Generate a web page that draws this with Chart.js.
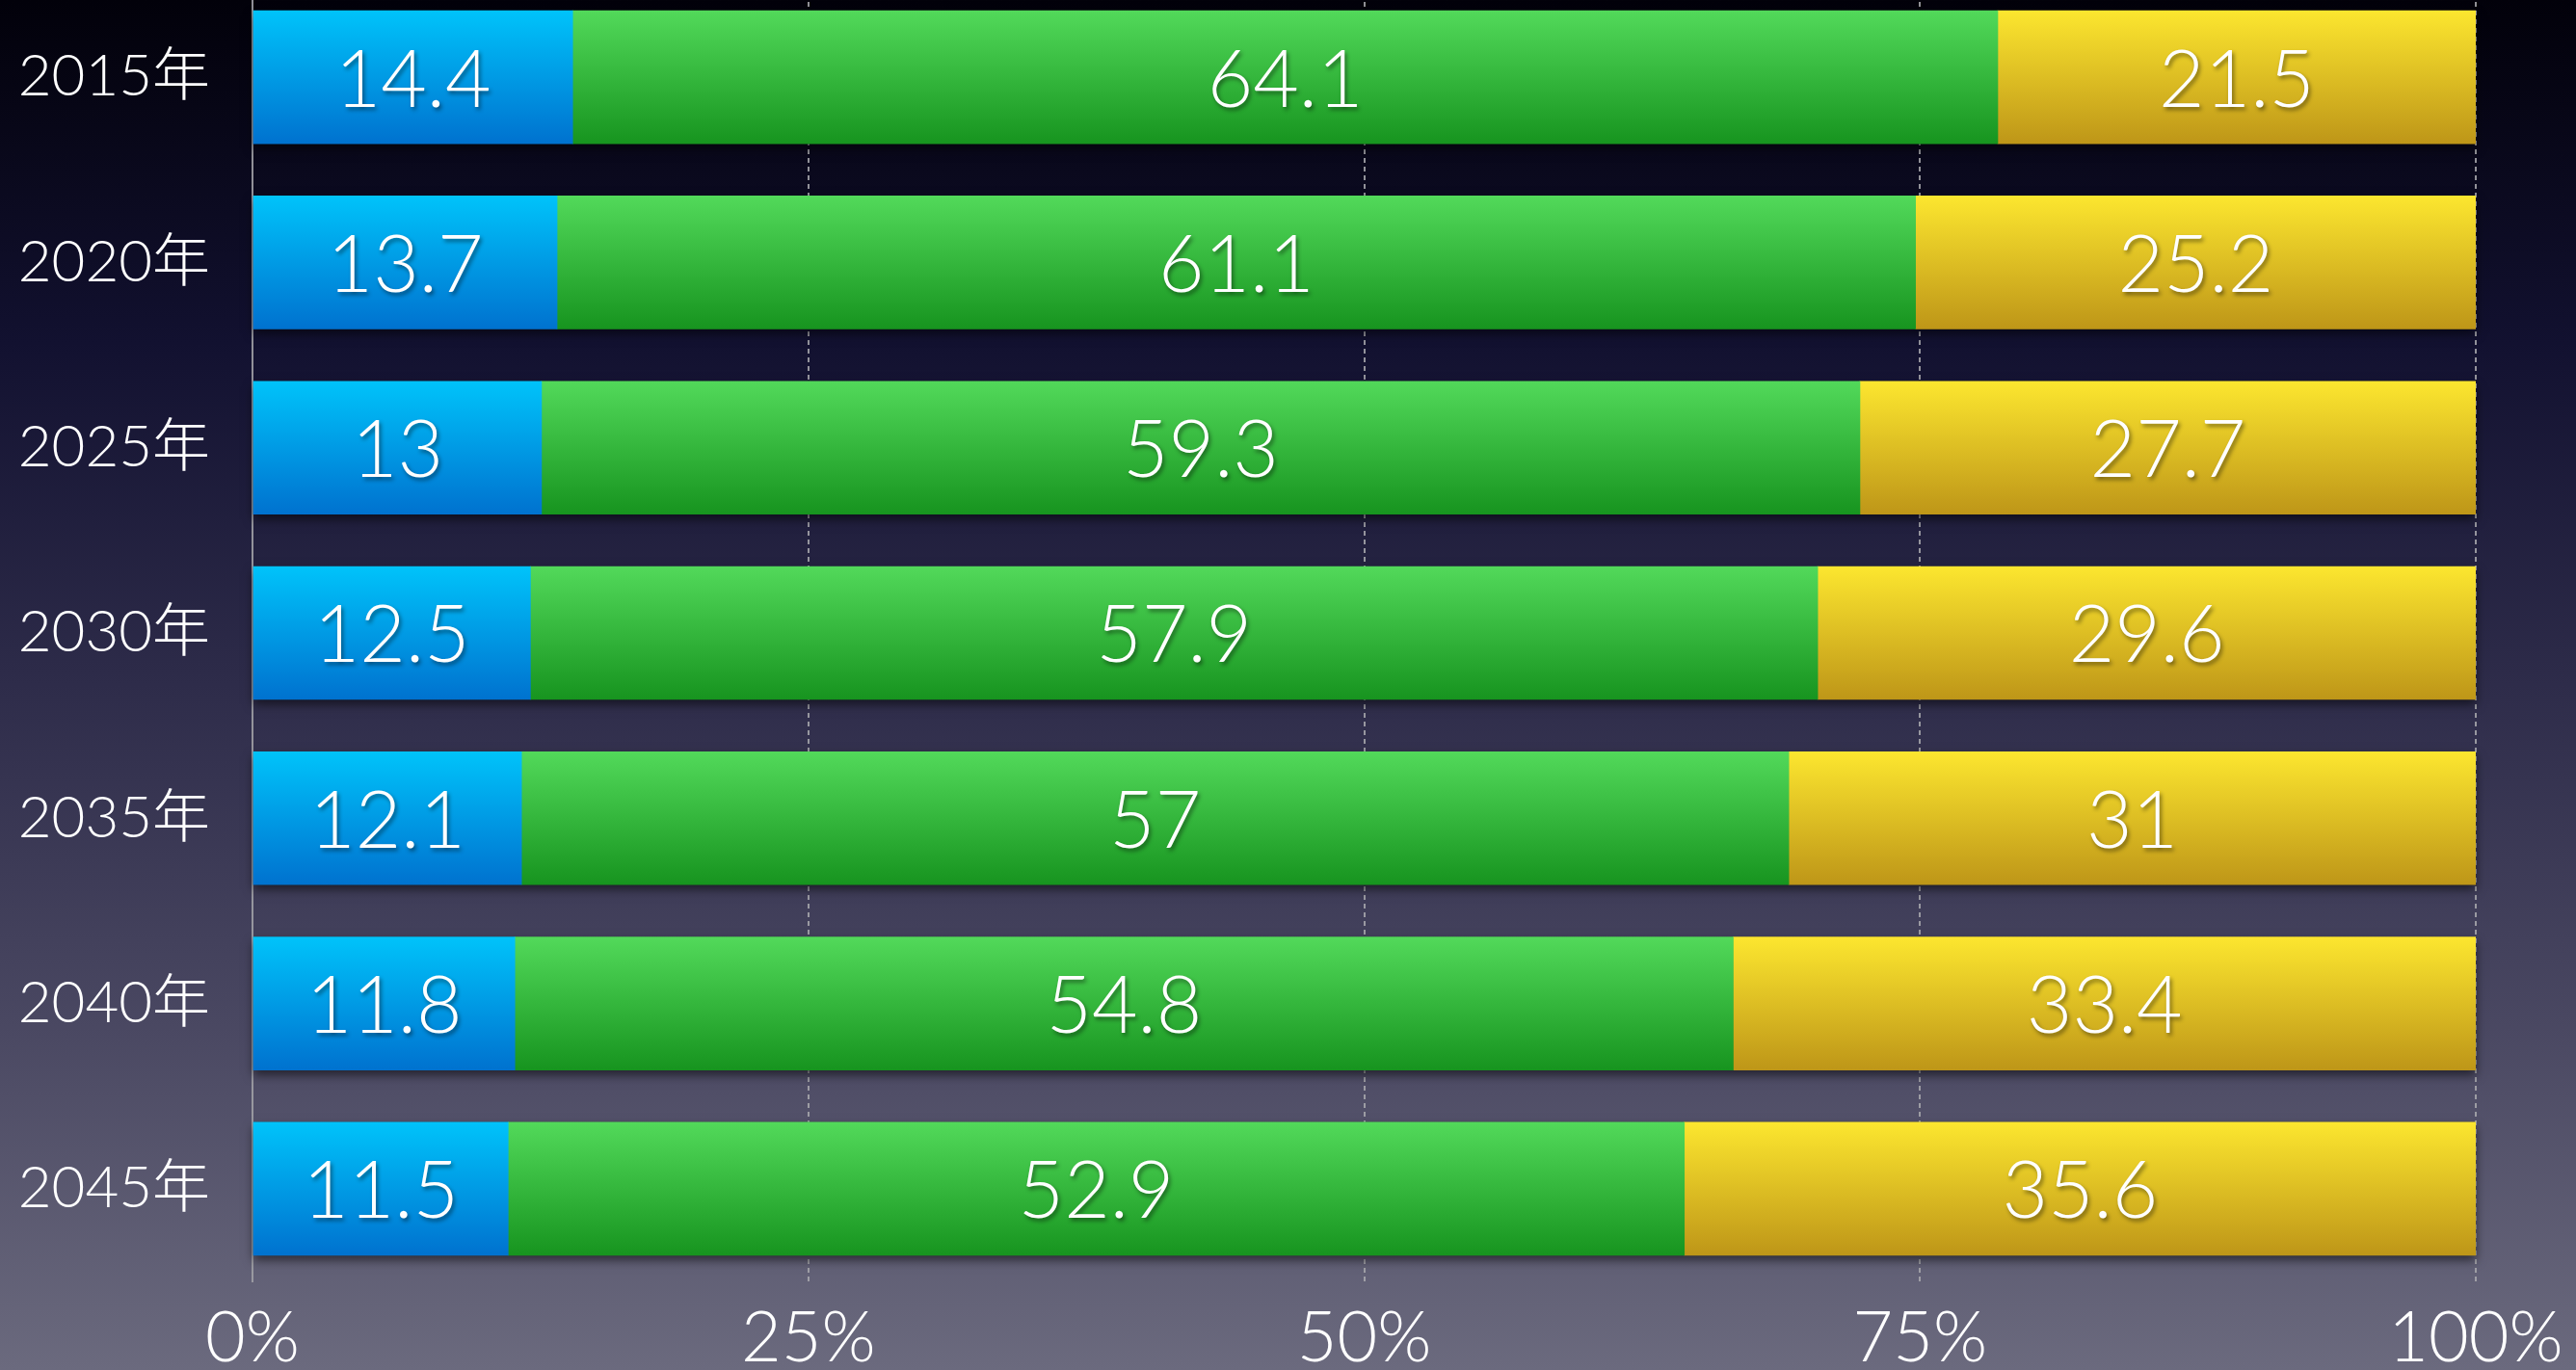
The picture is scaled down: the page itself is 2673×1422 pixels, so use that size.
<!DOCTYPE html>
<html>
<head>
<meta charset="utf-8">
<script src="https://cdn.jsdelivr.net/npm/chart.js@4.4.1/dist/chart.umd.min.js"></script>
<style>
  html, body { margin: 0; padding: 0; width: 2673px; height: 1422px; overflow: hidden; }
  body { background: linear-gradient(to bottom, #02010a 0%, #121130 25%, #2e2c4a 50%, #4a4862 75%, #6b6a7e 100%); position: relative; }
  #wrap { position: absolute; left: 0; top: -16px; width: 2673px; height: 1438px; }
</style>
</head>
<body>
<div id="wrap"><canvas id="c" width="2673" height="1438"></canvas></div>
<script>
const categories = ['2015年', '2020年', '2025年', '2030年', '2035年', '2040年', '2045年'];
const youngValues = [14.4, 13.7, 13, 12.5, 12.1, 11.8, 11.5];
const workingValues = [64.1, 61.1, 59.3, 57.9, 57, 54.8, 52.9];
const elderlyValues = [21.5, 25.2, 27.7, 29.6, 31, 33.4, 35.6];
const xTickLabels = ['0%', '25%', '50%', '75%', '100%'];

const FONT = "Lato, 'Noto Sans CJK JP', sans-serif";
const BAR_T = 138;

function grad(top, bottom) {
  return (ctx) => {
    const chart = ctx.chart;
    const y = chart.scales && chart.scales.y;
    if (!y || ctx.type !== 'data') return top;
    const c = y.getPixelForValue(ctx.dataIndex);
    if (!Number.isFinite(c)) return top;
    const g = chart.ctx.createLinearGradient(0, c - BAR_T / 2, 0, c + BAR_T / 2);
    g.addColorStop(0, top);
    g.addColorStop(1, bottom);
    return g;
  };
}

const shadowPlugin = {
  id: 'barShadow',
  beforeDatasetsDraw(chart) {
    const ctx = chart.ctx;
    const first = chart.getDatasetMeta(0);
    const last = chart.getDatasetMeta(chart.data.datasets.length - 1);
    ctx.save();
    ctx.shadowColor = 'rgba(0,0,0,0.55)';
    ctx.shadowBlur = 10;
    ctx.shadowOffsetY = 5;
    ctx.fillStyle = '#222';
    first.data.forEach((el, i) => {
      const l = last.data[i];
      const x0 = el.base;
      const x1 = Math.min(l.x, chart.chartArea.right);
      ctx.fillRect(x0, el.y - BAR_T / 2, x1 - x0, BAR_T);
    });
    ctx.restore();
  }
};

const labelPlugin = {
  id: 'valueLabels',
  afterDatasetsDraw(chart) {
    const ctx = chart.ctx;
    ctx.save();
    ctx.font = "300 82px " + FONT;
    ctx.textAlign = 'center';
    ctx.textBaseline = 'middle';
    ctx.fillStyle = '#ffffff';
    ctx.shadowColor = 'rgba(0,0,0,0.45)';
    ctx.shadowBlur = 4;
    ctx.shadowOffsetX = 2;
    ctx.shadowOffsetY = 3;
    chart.data.datasets.forEach((ds, di) => {
      const meta = chart.getDatasetMeta(di);
      meta.data.forEach((el, i) => {
        const x0 = el.base;
        const x1 = Math.min(el.x, chart.chartArea.right);
        ctx.fillText(String(ds.data[i]), (x0 + x1) / 2, el.y + 4);
      });
    });
    ctx.restore();
  }
};

new Chart(document.getElementById('c'), {
  type: 'bar',
  data: {
    labels: categories,
    datasets: [
      { label: '年少人口', data: youngValues, backgroundColor: grad('#00c3fa', '#0072cf') },
      { label: '生産年齢人口', data: workingValues, backgroundColor: grad('#52d95a', '#17941f') },
      { label: '老年人口', data: elderlyValues, backgroundColor: grad('#fce62f', '#be9618') }
    ]
  },
  options: {
    indexAxis: 'y',
    responsive: false,
    animation: false,
    events: [],
    layout: { padding: { left: 0, right: 104, top: 0, bottom: 0 } },
    datasets: { bar: { barThickness: BAR_T, borderWidth: 0 } },
    plugins: { legend: { display: false }, tooltip: { enabled: false } },
    scales: {
      x: {
        stacked: true,
        min: 0,
        max: 100,
        afterBuildTicks(scale) {
          scale.ticks = xTickLabels.map((t, i) => ({ value: i * 25 }));
        },
        afterFit(scale) {
          scale.height = 92;
          scale.paddingLeft = 0; scale.paddingRight = 0;
          scale.paddingTop = 0; scale.paddingBottom = 0;
        },
        ticks: {
          callback: (v, i) => xTickLabels[i],
          color: '#ffffff',
          font: { family: FONT, size: 72, weight: '300' },
          padding: 17,
          maxRotation: 0
        },
        grid: {
          drawTicks: false,
          color: (c) => (c.index === 0 ? 'rgba(0,0,0,0)' : 'rgba(170,170,175,0.85)'),
          lineWidth: 2
        },
        border: { display: false, dash: [5, 4] }
      },
      y: {
        stacked: true,
        afterFit(scale) {
          scale.width = 262;
          scale.paddingTop = 0; scale.paddingBottom = 0;
          scale.paddingLeft = 0; scale.paddingRight = 0;
        },
        ticks: {
          color: '#ffffff',
          font: { family: FONT, size: 60, weight: '300' },
          padding: 44
        },
        grid: { display: false, drawTicks: false },
        border: { display: true, color: 'rgba(160,160,165,0.9)', width: 2 }
      }
    }
  },
  plugins: [shadowPlugin, labelPlugin]
});
</script>
</body>
</html>
